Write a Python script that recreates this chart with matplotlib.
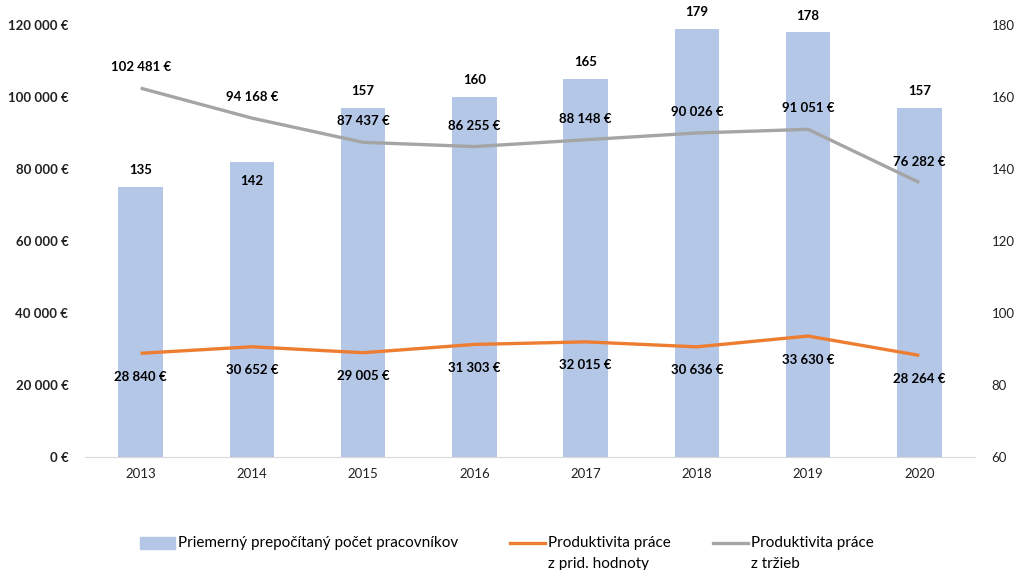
import matplotlib.pyplot as plt
from matplotlib.lines import Line2D
from matplotlib.patches import Rectangle
from matplotlib.ticker import FuncFormatter

plt.rcParams["font.family"] = ["Lato", "DejaVu Sans"]

years = ["2013", "2014", "2015", "2016", "2017", "2018", "2019", "2020"]
workers = [135, 142, 157, 160, 165, 179, 178, 157]
prod_added = [28840, 30652, 29005, 31303, 32015, 30636, 33630, 28264]
prod_sales = [102481, 94168, 87437, 86255, 88148, 90026, 91051, 76282]

# label offsets (points) for bar values; 2014 sits inside the bar
bar_offsets = [12, -14, 12, 12, 12, 12, 12, 12]

bar_color = "#B4C7E7"
orange = "#ED7D31"
gray = "#A5A5A5"


def eur(v, pos=None):
    return f"{v:,.0f} €".replace(",", " ")


fig = plt.figure(figsize=(10.17, 5.70), dpi=100)
ax = fig.add_axes([0.0836, 0.198, 0.875, 0.758])
ax2 = ax.twinx()

x = list(range(len(years)))

# bars on the secondary (right) axis
ax2.bar(x, workers, width=0.4, color=bar_color, zorder=1)
ax2.set_ylim(60, 180)
ax2.set_yticks(range(60, 181, 20))
for xi, w, off in zip(x, workers, bar_offsets):
    ax2.annotate(str(w), (xi, w), xytext=(0, off), textcoords="offset points",
                 ha="center", va="center", fontsize=9.5, fontweight="bold")

# lines on the primary (left) axis, drawn above bars
ax.set_zorder(ax2.get_zorder() + 1)
ax.patch.set_visible(False)
ax.plot(x, prod_added, color=orange, lw=2.4, solid_capstyle="butt")
ax.plot(x, prod_sales, color=gray, lw=2.4, solid_capstyle="butt")
for xi, v in zip(x, prod_added):
    ax.annotate(eur(v), (xi, v), xytext=(0, -17), textcoords="offset points",
                ha="center", va="center", fontsize=9.5, fontweight="bold")
for xi, v in zip(x, prod_sales):
    ax.annotate(eur(v), (xi, v), xytext=(0, 15), textcoords="offset points",
                ha="center", va="center", fontsize=9.5, fontweight="bold")

ax.set_ylim(0, 120000)
ax.set_yticks(range(0, 120001, 20000))
ax.yaxis.set_major_formatter(FuncFormatter(eur))
ax.set_xlim(-0.5, len(years) - 0.5)
ax.set_xticks(x)
ax.set_xticklabels(years)

for a in (ax, ax2):
    for s in a.spines.values():
        s.set_visible(False)
    a.tick_params(length=0, labelsize=9.5, colors="#222222")
ax.spines["bottom"].set_visible(True)
ax.spines["bottom"].set_color("#D9D9D9")
ax.tick_params(axis="y", pad=12)
ax.tick_params(axis="x", pad=8)
ax2.tick_params(axis="y", pad=12)
for t in ax.get_yticklabels():
    t.set_fontweight("bold")

# legend drawn by hand to keep handles aligned with the first text line
ly = 1 - 543 / 570
fs = 11
fig.add_artist(Rectangle((140 / 1017, ly - 0.010), 35 / 1017, 0.020,
                         transform=fig.transFigure, color=bar_color))
fig.text(178 / 1017, ly, "Priemerný prepočítaný počet pracovníkov",
         va="center", fontsize=fs)
fig.add_artist(Line2D([510 / 1017, 545 / 1017], [ly, ly],
                      transform=fig.transFigure, color=orange, lw=2.4))
fig.text(548 / 1017, ly, "Produktivita práce", va="center", fontsize=fs)
fig.text(548 / 1017, ly - 0.036, "z prid. hodnoty", va="center", fontsize=fs)
fig.add_artist(Line2D([713 / 1017, 748 / 1017], [ly, ly],
                      transform=fig.transFigure, color=gray, lw=2.4))
fig.text(751 / 1017, ly, "Produktivita práce", va="center", fontsize=fs)
fig.text(751 / 1017, ly - 0.036, "z tržieb", va="center", fontsize=fs)

fig.savefig("out.png", dpi=100)
